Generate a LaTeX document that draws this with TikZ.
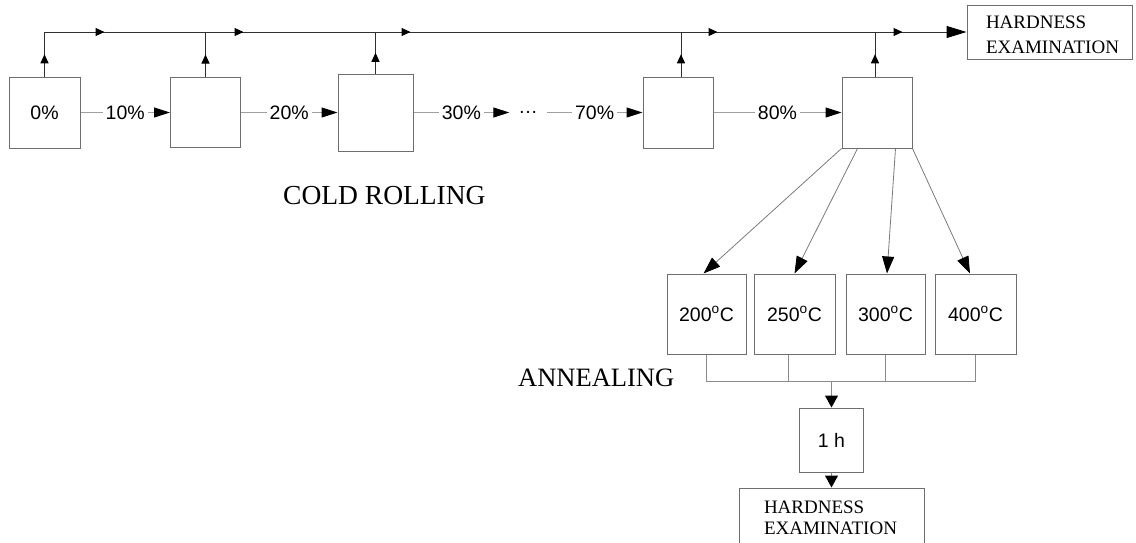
\documentclass[tikz,border=0pt]{standalone}
\usepackage{fontspec}
\setmainfont{Liberation Serif}
\newfontfamily\lsans{Liberation Sans}
\usetikzlibrary{arrows.meta,decorations.markings,calc}
\definecolor{boxgray}{HTML}{6E6E6E}
\definecolor{flowgray}{HTML}{A0A0A0}
\definecolor{maingray}{HTML}{303030}
\definecolor{diaggray}{HTML}{7A7A7A}
\definecolor{combgray}{HTML}{8A8A8A}
\begin{document}
\begin{tikzpicture}[x=1pt,y=-1pt,
  sansfont/.style={font=\lsans\fontsize{19.5}{23}\selectfont},
  box/.style={draw=boxgray,line width=1pt,inner sep=0pt,sansfont},
  hebox/.style={draw=boxgray,line width=1pt,inner ysep=0pt,align=left},
  flow/.style={draw=flowgray,line width=1pt,-{Triangle[length=16pt,width=10pt,color=black]}},
  lbl/.style={fill=white,inner sep=3pt,sansfont},
  upline/.style={draw=maingray,line width=1pt,postaction={decorate},
    decoration={markings,mark=at position 0.5 with {\arrow{Triangle[length=9pt,width=8pt,color=black]}}}},
  mainline/.style={draw=maingray,line width=1pt,-{Triangle[length=20pt,width=12pt,color=black]},
    postaction={decorate},
    decoration={markings,
      mark=at position 60pt with {\arrow{Triangle[length=9pt,width=8pt,color=black]}},
      mark=at position 199pt with {\arrow{Triangle[length=9pt,width=8pt,color=black]}},
      mark=at position 366pt with {\arrow{Triangle[length=9pt,width=8pt,color=black]}},
      mark=at position 673pt with {\arrow{Triangle[length=9pt,width=8pt,color=black]}},
      mark=at position 858pt with {\arrow{Triangle[length=9pt,width=8pt,color=black]}}}},
  diag/.style={draw=diaggray,line width=0.8pt,-{Triangle[length=17pt,width=12pt,color=black]}},
  comb/.style={draw=combgray,line width=1pt},
  downarrow/.style={comb,-{Triangle[length=12pt,width=13pt,color=black]}},
  title/.style={anchor=base west,inner sep=0pt}
]
\useasboundingbox (0,0) rectangle (1136,542);
\clip (0,0) rectangle (1136,542);

% cold rolling boxes
\node[box,minimum width=71pt,minimum height=71pt] (B0) at (44.5,112.5) {0\%};
\node[box,minimum width=70pt,minimum height=70pt] (B1) at (205.5,112.5) {};
\node[box,minimum width=75pt,minimum height=77pt] (B2) at (375.5,112.5) {};
\node[inner sep=0pt,minimum width=37pt,sansfont] (dots) at (528,112.5) {\textellipsis};
\node[box,minimum width=70pt,minimum height=71pt] (B3) at (678,112.5) {};
\node[box,minimum width=70pt,minimum height=71pt] (B4) at (877,112.5) {};

\node[hebox,minimum width=165pt,minimum height=54pt,inner xsep=19pt,text width=127pt,
  text height=18.6pt,font=\fontsize{19}{25}\selectfont] (HE) at (1049.5,32)
  {\mbox{HARDNESS}\\\mbox{EXAMINATION}};

% flow arrows
\draw[flow] (B0.east) -- node[lbl]{10\%} (B1.west);
\draw[flow] (B1.east) -- node[lbl]{20\%} (B2.west);
\draw[flow] (B2.east) -- node[lbl]{30\%} (dots.west);
\draw[flow] (dots.east) -- node[lbl]{70\%} (B3.west);
\draw[flow] (B3.east) -- node[lbl]{80\%} (B4.west);

% collecting line
\coordinate (j0) at (B0.north |- 0,32);
\coordinate (j1) at (B1.north |- 0,32);
\coordinate (j2) at (B2.north |- 0,32);
\coordinate (j3) at ($(B3.north |- 0,32)+(3,0)$);
\coordinate (j4) at ($(B4.north |- 0,32)+(-2,0)$);
\draw[upline] (B0.north) -- (j0);
\draw[upline] (B1.north) -- (j1);
\draw[upline] (B2.north) -- (j2);
\draw[upline] (B3.north -| j3) -- (j3);
\draw[upline] (B4.north -| j4) -- (j4);
\draw[mainline] (j0) -- (HE.west);

\node[title,font=\fontsize{27.5}{31}\selectfont] (cold) at (283,204) {COLD ROLLING};

% annealing
\node[box,minimum width=79pt,minimum height=80pt] (A1) at (706.5,314) {200\textsuperscript{o}C};
\node[box,minimum width=81pt,minimum height=80pt] (A2) at (794.5,314) {250\textsuperscript{o}C};
\node[box,minimum width=79pt,minimum height=80pt] (A3) at (885.5,314) {300\textsuperscript{o}C};
\node[box,minimum width=81pt,minimum height=80pt] (A4) at (975.5,314) {400\textsuperscript{o}C};

\draw[diag] (B4.south west) -- ($(A1.north)+(-3,0)$);
\draw[diag] ($(B4.south west)+(16,0)$) -- (A2.north);
\draw[diag] ($(B4.south west)+(54,0)$) -- ($(A3.north)+(1.5,0)$);
\draw[diag] (B4.south east) -- ($(A4.north)+(-5.5,0)$);

\node[title,font=\fontsize{26.5}{30}\selectfont] (ann) at (518,386) {ANNEALING};

\node[box,minimum width=64pt,minimum height=64pt] (H1) at (831.5,440) {1 h};
\node[hebox,minimum width=185pt,minimum height=60pt,inner xsep=25pt,text width=135pt,
  font=\fontsize{19}{21}\selectfont] (HE2) at (831.5,518)
  {\mbox{HARDNESS}\\\mbox{EXAMINATION}};

\coordinate (cm) at (H1.north |- 0,381);
\coordinate (a2s) at ($(A2.south)+(-6.5,0)$);
\draw[comb] (A1.south) -- (A1.south |- cm) -- (A4.south |- cm) -- (A4.south);
\draw[comb] (a2s) -- (a2s |- cm);
\draw[comb] (A3.south) -- (A3.south |- cm);
\draw[downarrow] (cm) -- (H1.north);
\draw[downarrow] (H1.south) -- (HE2.north);
\end{tikzpicture}
\end{document}
